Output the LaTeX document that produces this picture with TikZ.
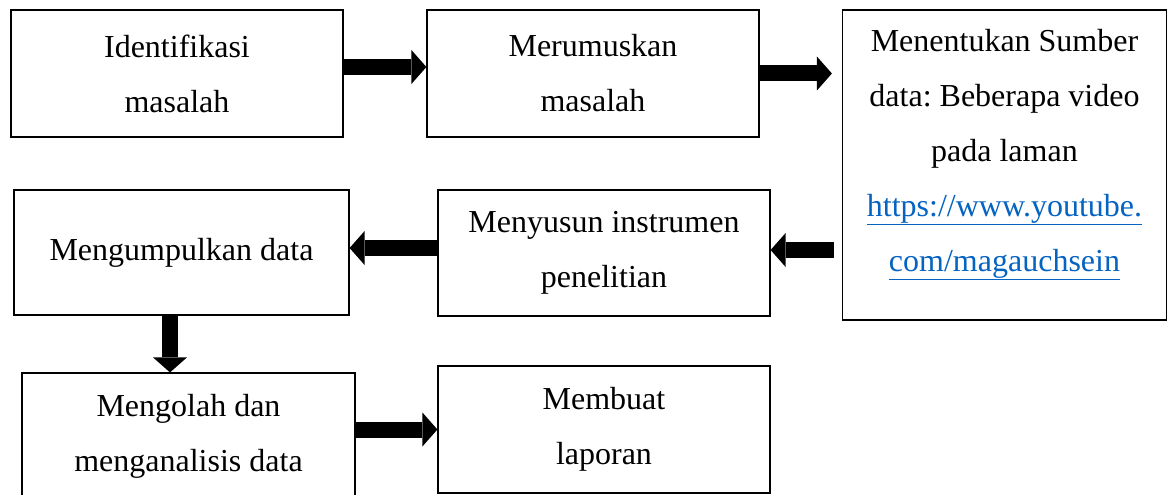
\documentclass[tikz,border=0pt]{standalone}
\usepackage{fontspec}
\setmainfont{Liberation Serif}
\usetikzlibrary{arrows.meta,calc}
\definecolor{linkblue}{HTML}{0563C1}
\frenchspacing

\begin{document}
\begin{tikzpicture}[x=1pt, y=-1pt,
    box/.style={draw, line width=1.2pt, minimum width=332pt, minimum height=127pt,
      align=center, inner sep=0pt, font=\fontsize{32}{55}\selectfont},
    fat/.style={line width=16pt, -{Triangle[length=15pt, width=34pt, line width=0pt]}}]
    \useasboundingbox (0,0) rectangle (1168,495);

    \node[box] (ident) at (177,73.5) {Identifikasi\\masalah};
    \node[box] (rumus) at (593,73.5) {Merumuskan\\masalah};
    \node[box, minimum width=324pt, minimum height=310pt,
      label={[anchor=north, yshift=-16pt, align=center, font=\fontsize{32}{55}\selectfont]north:
        Menentukan Sumber\\data: Beberapa video\\pada laman\\
        \textcolor{linkblue}{\underline{https://www.youtube.}}\\
        \textcolor{linkblue}{\underline{com/magauchsein}}}] (sumber) at (1004.5,165) {};

    \node[box, minimum width=335pt, minimum height=125pt] (kumpul) at (181.5,252.5) {Mengumpulkan data};
    \node[box, minimum height=126pt] (susun) at (604,253) {Menyusun instrumen\\penelitian};

    \node[box, minimum width=333pt] (olah) at (188.5,436.5) {Mengolah dan\\menganalisis data};
    \node[box] (lapor) at (604,429.5) {Membuat\\laporan};

    % arrows
    \draw[fat] ([yshift=6.5pt]ident.east) -- ([yshift=6.5pt]rumus.west);
    \draw[fat] (rumus.east) -- ($(rumus.east -| sumber.west)+(-10,0)$);
    \draw[fat] ($(susun.east -| sumber.west)+(-8,-3)$) -- ([yshift=3pt]susun.east);
    \draw[fat] ([yshift=5pt]susun.west) -- ([yshift=5pt]susun.west -| kumpul.east);
    \draw[fat] ([xshift=-11.5pt]kumpul.south) -- ([xshift=-11.5pt]kumpul.south |- olah.north);
    \draw[fat] (lapor.west -| olah.east) -- (lapor.west);

\end{tikzpicture}
\end{document}
